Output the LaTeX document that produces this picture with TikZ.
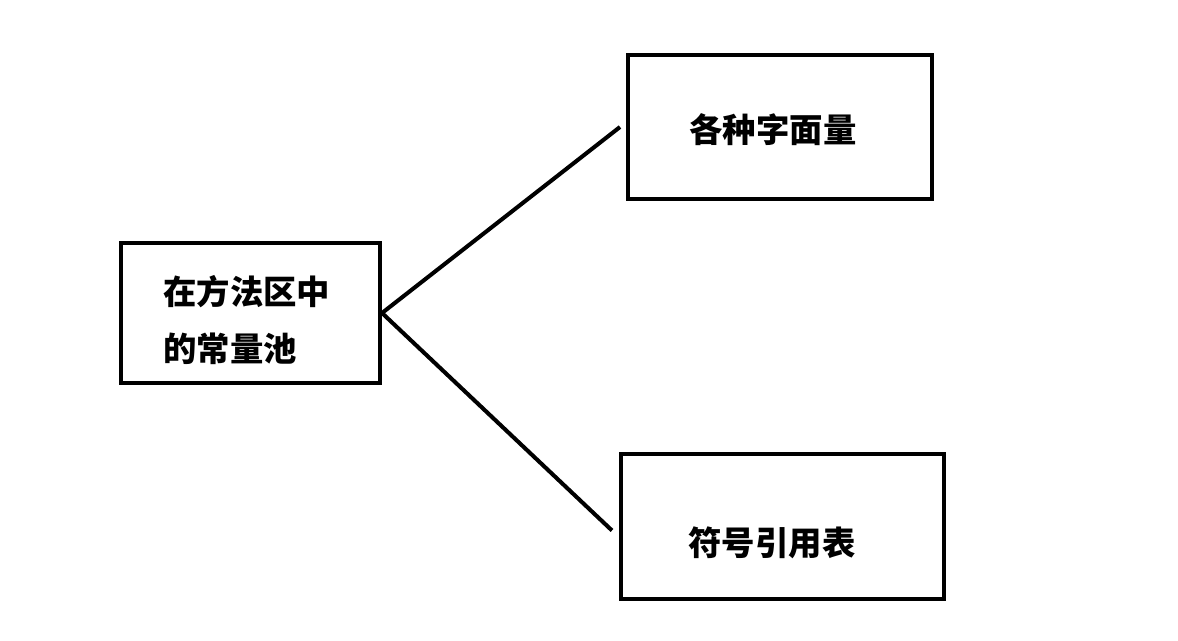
\documentclass[tikz,border=0pt]{standalone}
\usepackage{fontspec}
\newfontfamily\cjk{Noto Sans CJK SC}
\usetikzlibrary{positioning}

\begin{document}
\begin{tikzpicture}[
    box/.style={rectangle, draw=black, line width=2.3pt, inner sep=0pt},
    txt/.style={font=\cjk\bfseries\fontsize{19}{32}\selectfont, align=left, inner sep=0pt},
    conn/.style={line width=2.3pt, black}
]
    \useasboundingbox (0,0) rectangle (23.56,-12.82);

    % left: the pool
    \node[box, minimum width=5.18cm, minimum height=2.8cm] (pool) at (5.01,-6.26) {};
    \node[txt, anchor=west] (pooltxt) at (3.26,-6.4) {在方法区中\\的常量池};

    % right: the two parts
    \node[box, minimum width=6.08cm, minimum height=2.88cm] (lit) at (15.6,-2.54) {};
    \node[txt] (littxt) at (15.46,-2.6) {各种字面量};
    \node[box, minimum width=6.46cm, minimum height=2.9cm] (sym) at (15.65,-10.53) {};
    \node[txt] (symtxt) at (15.44,-10.86) {符号引用表};

    % connectors
    \draw[conn] (pool.east) -- ([xshift=-0.12cm]lit.west);
    \draw[conn] (pool.east) -- ([xshift=-0.14cm, yshift=-0.08cm]sym.west);
\end{tikzpicture}
\end{document}
